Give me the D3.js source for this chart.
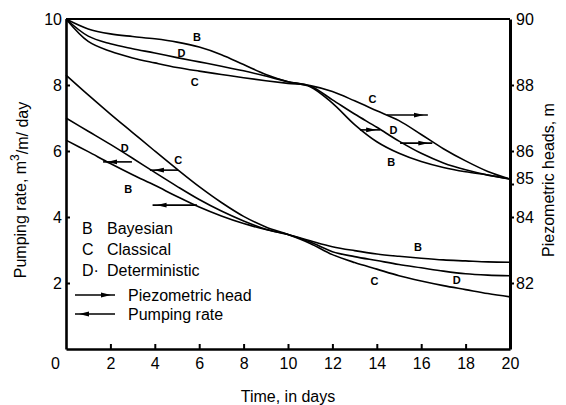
<!DOCTYPE html>
<html>
<head>
<meta charset="utf-8">
<script src="https://cdn.jsdelivr.net/npm/d3@7/dist/d3.min.js"></script>
<style>
  body { margin: 0; background: #fff; }
  svg { font-family: "Liberation Sans", Arial, sans-serif; }
  .lbl { font-size: 11px; font-weight: bold; }
</style>
</head>
<body>
<div id="chart"></div>
<script>
// valores, un valor por dia (0..20)
var days = d3.range(0, 21);
var xTicks = [0, 2, 4, 6, 8, 10, 12, 14, 16, 18, 20];
var leftTicks = [2, 4, 6, 8, 10];
var rightTicks = [82, 84, 85, 86, 88, 90];

// alturas piezometricas (eje derecho, m)
var headB = [90, 89.7, 89.55, 89.47, 89.4, 89.3, 89.15, 88.92, 88.62, 88.32, 88.1, 87.95, 87.45, 86.8, 86.28, 85.93, 85.68, 85.5, 85.37, 85.27, 85.15];
var headD = [90, 89.48, 89.25, 89.1, 88.97, 88.83, 88.7, 88.57, 88.43, 88.27, 88.1, 87.97, 87.55, 87.12, 86.72, 86.3, 85.93, 85.64, 85.43, 85.27, 85.15];
var headC = [90, 89.32, 89.02, 88.82, 88.67, 88.53, 88.42, 88.32, 88.22, 88.13, 88.05, 87.98, 87.8, 87.52, 87.22, 86.92, 86.5, 86.07, 85.7, 85.38, 85.15];

// caudales de bombeo (eje izquierdo, m3/m/dia)
var rateB = [6.33, 5.98, 5.62, 5.28, 4.96, 4.62, 4.3, 4.03, 3.8, 3.62, 3.47, 3.28, 3.1, 2.98, 2.88, 2.81, 2.75, 2.7, 2.67, 2.64, 2.63];
var rateD = [7.0, 6.6, 6.2, 5.78, 5.35, 4.93, 4.53, 4.18, 3.88, 3.63, 3.47, 3.24, 2.95, 2.8, 2.68, 2.56, 2.46, 2.36, 2.28, 2.24, 2.22];
var rateC = [8.3, 7.7, 7.12, 6.56, 6.0, 5.45, 4.92, 4.44, 4.02, 3.7, 3.47, 3.2, 2.86, 2.62, 2.42, 2.22, 2.06, 1.92, 1.8, 1.68, 1.58];

// flechas: [desde, hasta, valor, eje]
var arrows = [
  [14.46, 16.3, 87.09, "r"], [13.24, 14.15, 86.64, "r"], [15.05, 16.5, 86.24, "r"],
  [2.97, 1.67, 5.67, "l"], [5.05, 3.78, 5.42, "l"], [5.9, 3.9, 4.36, "l"]
];

// etiquetas de curva: [letra, dia, valor, eje]
var curveLabels = [
  ["B", 5.9, 9.45, "l"], ["D", 5.2, 8.98, "l"], ["C", 5.8, 8.1, "l"],
  ["C", 13.8, 87.56, "r"], ["D", 14.75, 86.62, "r"], ["B", 14.65, 85.67, "r"],
  ["D", 2.65, 6.08, "l"], ["C", 5.05, 5.72, "l"], ["B", 2.8, 4.83, "l"],
  ["B", 15.85, 3.1, "l"], ["C", 13.9, 2.07, "l"], ["D", 17.6, 2.1, "l"]
];

var legendItems = [["B", "Bayesian"], ["C", "Classical"], ["D·", "Deterministic"]];
var legendArrows = [["Piezometric head", 1], ["Pumping rate", -1]];

var margin = {top: 19, right: 56, bottom: 56, left: 66},
    width = 566 - margin.left - margin.right,
    height = 405 - margin.top - margin.bottom;

var x = d3.scaleLinear().domain([0, 20]).range([0, width]);
var yL = d3.scaleLinear().domain([0, 10]).range([height, 0]);
var yR = d3.scaleLinear().domain([80, 90]).range([height, 0]);

var svg = d3.select("#chart").append("svg")
    .attr("width", 566)
    .attr("height", 405)
  .append("g")
    .attr("transform", "translate(" + margin.left + "," + margin.top + ")");

svg.append("defs").append("marker")
    .attr("id", "head")
    .attr("viewBox", "0 0 10 6")
    .attr("refX", 14).attr("refY", 3)
    .attr("markerWidth", 10).attr("markerHeight", 6)
    .attr("markerUnits", "userSpaceOnUse")
    .attr("orient", "auto")
  .append("path").attr("d", "M0,0.6L10,3L0,5.4Z").attr("fill", "#000");

var lineL = d3.line().x((d, i) => x(days[i])).y(d => yL(d)).curve(d3.curveCatmullRom.alpha(0.5));
var lineR = d3.line().x((d, i) => x(days[i])).y(d => yR(d)).curve(d3.curveCatmullRom.alpha(0.5));

[headB, headD, headC].forEach(function(s) {
  svg.append("path").attr("d", lineR(s)).attr("fill", "none").attr("stroke", "#000").attr("stroke-width", 1.6);
});
[rateB, rateD, rateC].forEach(function(s) {
  svg.append("path").attr("d", lineL(s)).attr("fill", "none").attr("stroke", "#000").attr("stroke-width", 1.6);
});

arrows.forEach(function(a) {
  var yy = a[3] == "r" ? yR(a[2]) : yL(a[2]);
  svg.append("line")
    .attr("x1", x(a[0])).attr("x2", x(a[1]))
    .attr("y1", yy).attr("y2", yy)
    .attr("stroke", "#000").attr("stroke-width", 1.6)
    .attr("marker-end", "url(#head)");
});

svg.selectAll(".lbl")
    .data(curveLabels)
  .enter().append("text")
    .attr("class", "lbl")
    .attr("x", d => x(d[1]))
    .attr("y", d => d[3] == "r" ? yR(d[2]) : yL(d[2]))
    .attr("text-anchor", "middle")
    .attr("dy", "0.35em")
    .text(d => d[0]);

// ejes
var xAxis = svg.append("g")
    .attr("transform", "translate(0," + height + ")")
    .call(d3.axisBottom(x).tickValues(xTicks).tickSizeInner(-5).tickSizeOuter(0).tickPadding(9));
xAxis.selectAll(".tick text").filter(d => d === 0).attr("dx", -11);
xAxis.selectAll(".tick line").filter(d => d === 0 || d === 20).remove();

var yAxisL = svg.append("g")
    .call(d3.axisLeft(yL).tickValues(leftTicks).tickSizeInner(-4).tickSizeOuter(0).tickPadding(4));
yAxisL.selectAll(".tick line").filter(d => d === 10).remove();

var yAxisR = svg.append("g")
    .attr("transform", "translate(" + width + ",0)")
    .call(d3.axisRight(yR).tickValues(rightTicks).tickSizeInner(4).tickSizeOuter(0).tickPadding(2));
yAxisR.selectAll(".tick text").filter(d => d === 85).attr("dy", "-0.02em");
yAxisR.selectAll(".tick line").filter(d => d === 90).remove();

svg.selectAll(".tick text").attr("font-size", 16).attr("font-family", "Liberation Sans, Arial, sans-serif").attr("fill", "#000");
svg.selectAll(".tick line").attr("stroke", "#000").attr("stroke-width", 2);
xAxis.select(".domain").attr("stroke-width", 2.6);
yAxisL.select(".domain").attr("stroke-width", 2.6);
yAxisR.select(".domain").attr("stroke-width", 3);

svg.append("line")
    .attr("x1", 0).attr("x2", width).attr("y1", 0).attr("y2", 0)
    .attr("stroke", "#000").attr("stroke-width", 2);

// leyenda
legendItems.forEach(function(d, i) {
  var yy = 228 - margin.top + i * 21;
  svg.append("text").attr("x", 16).attr("y", yy).attr("dy", "0.35em").attr("font-size", 16).text(d[0]);
  svg.append("text").attr("x", 41).attr("y", yy).attr("dy", "0.35em").attr("font-size", 16).text(d[1]);
});
legendArrows.forEach(function(d, i) {
  var yy = 295 - margin.top + i * 19;
  var a = 9, b = 49;
  svg.append("line")
    .attr("x1", d[1] > 0 ? a : b).attr("x2", d[1] > 0 ? b : a)
    .attr("y1", yy).attr("y2", yy)
    .attr("stroke", "#000").attr("stroke-width", 1.6)
    .attr("marker-end", "url(#head)");
  svg.append("text").attr("x", 62).attr("y", yy).attr("dy", "0.35em").attr("font-size", 16).text(d[0]);
});

// titulos de ejes
svg.append("text")
    .attr("x", x(10)).attr("y", 396 - margin.top)
    .attr("dy", "0.35em")
    .attr("text-anchor", "middle").attr("font-size", 16)
    .text("Time, in days");

var tl = svg.append("text")
    .attr("transform", "translate(" + (20 - margin.left) + "," + (190 - margin.top) + ") rotate(-90)")
    .attr("dy", "0.35em")
    .attr("text-anchor", "middle").attr("font-size", 16);
tl.append("tspan").text("Pumping rate,  m");
tl.append("tspan").attr("font-size", 12).attr("dy", "-0.55em").text("3");
tl.append("tspan").attr("dy", "0.55em").text("/m/ day");

svg.append("text")
    .attr("transform", "translate(" + (548 - margin.left) + "," + (180 - margin.top) + ") rotate(-90)")
    .attr("dy", "0.35em")
    .attr("text-anchor", "middle").attr("font-size", 16)
    .text("Piezometric heads, m");
</script>
</body>
</html>
